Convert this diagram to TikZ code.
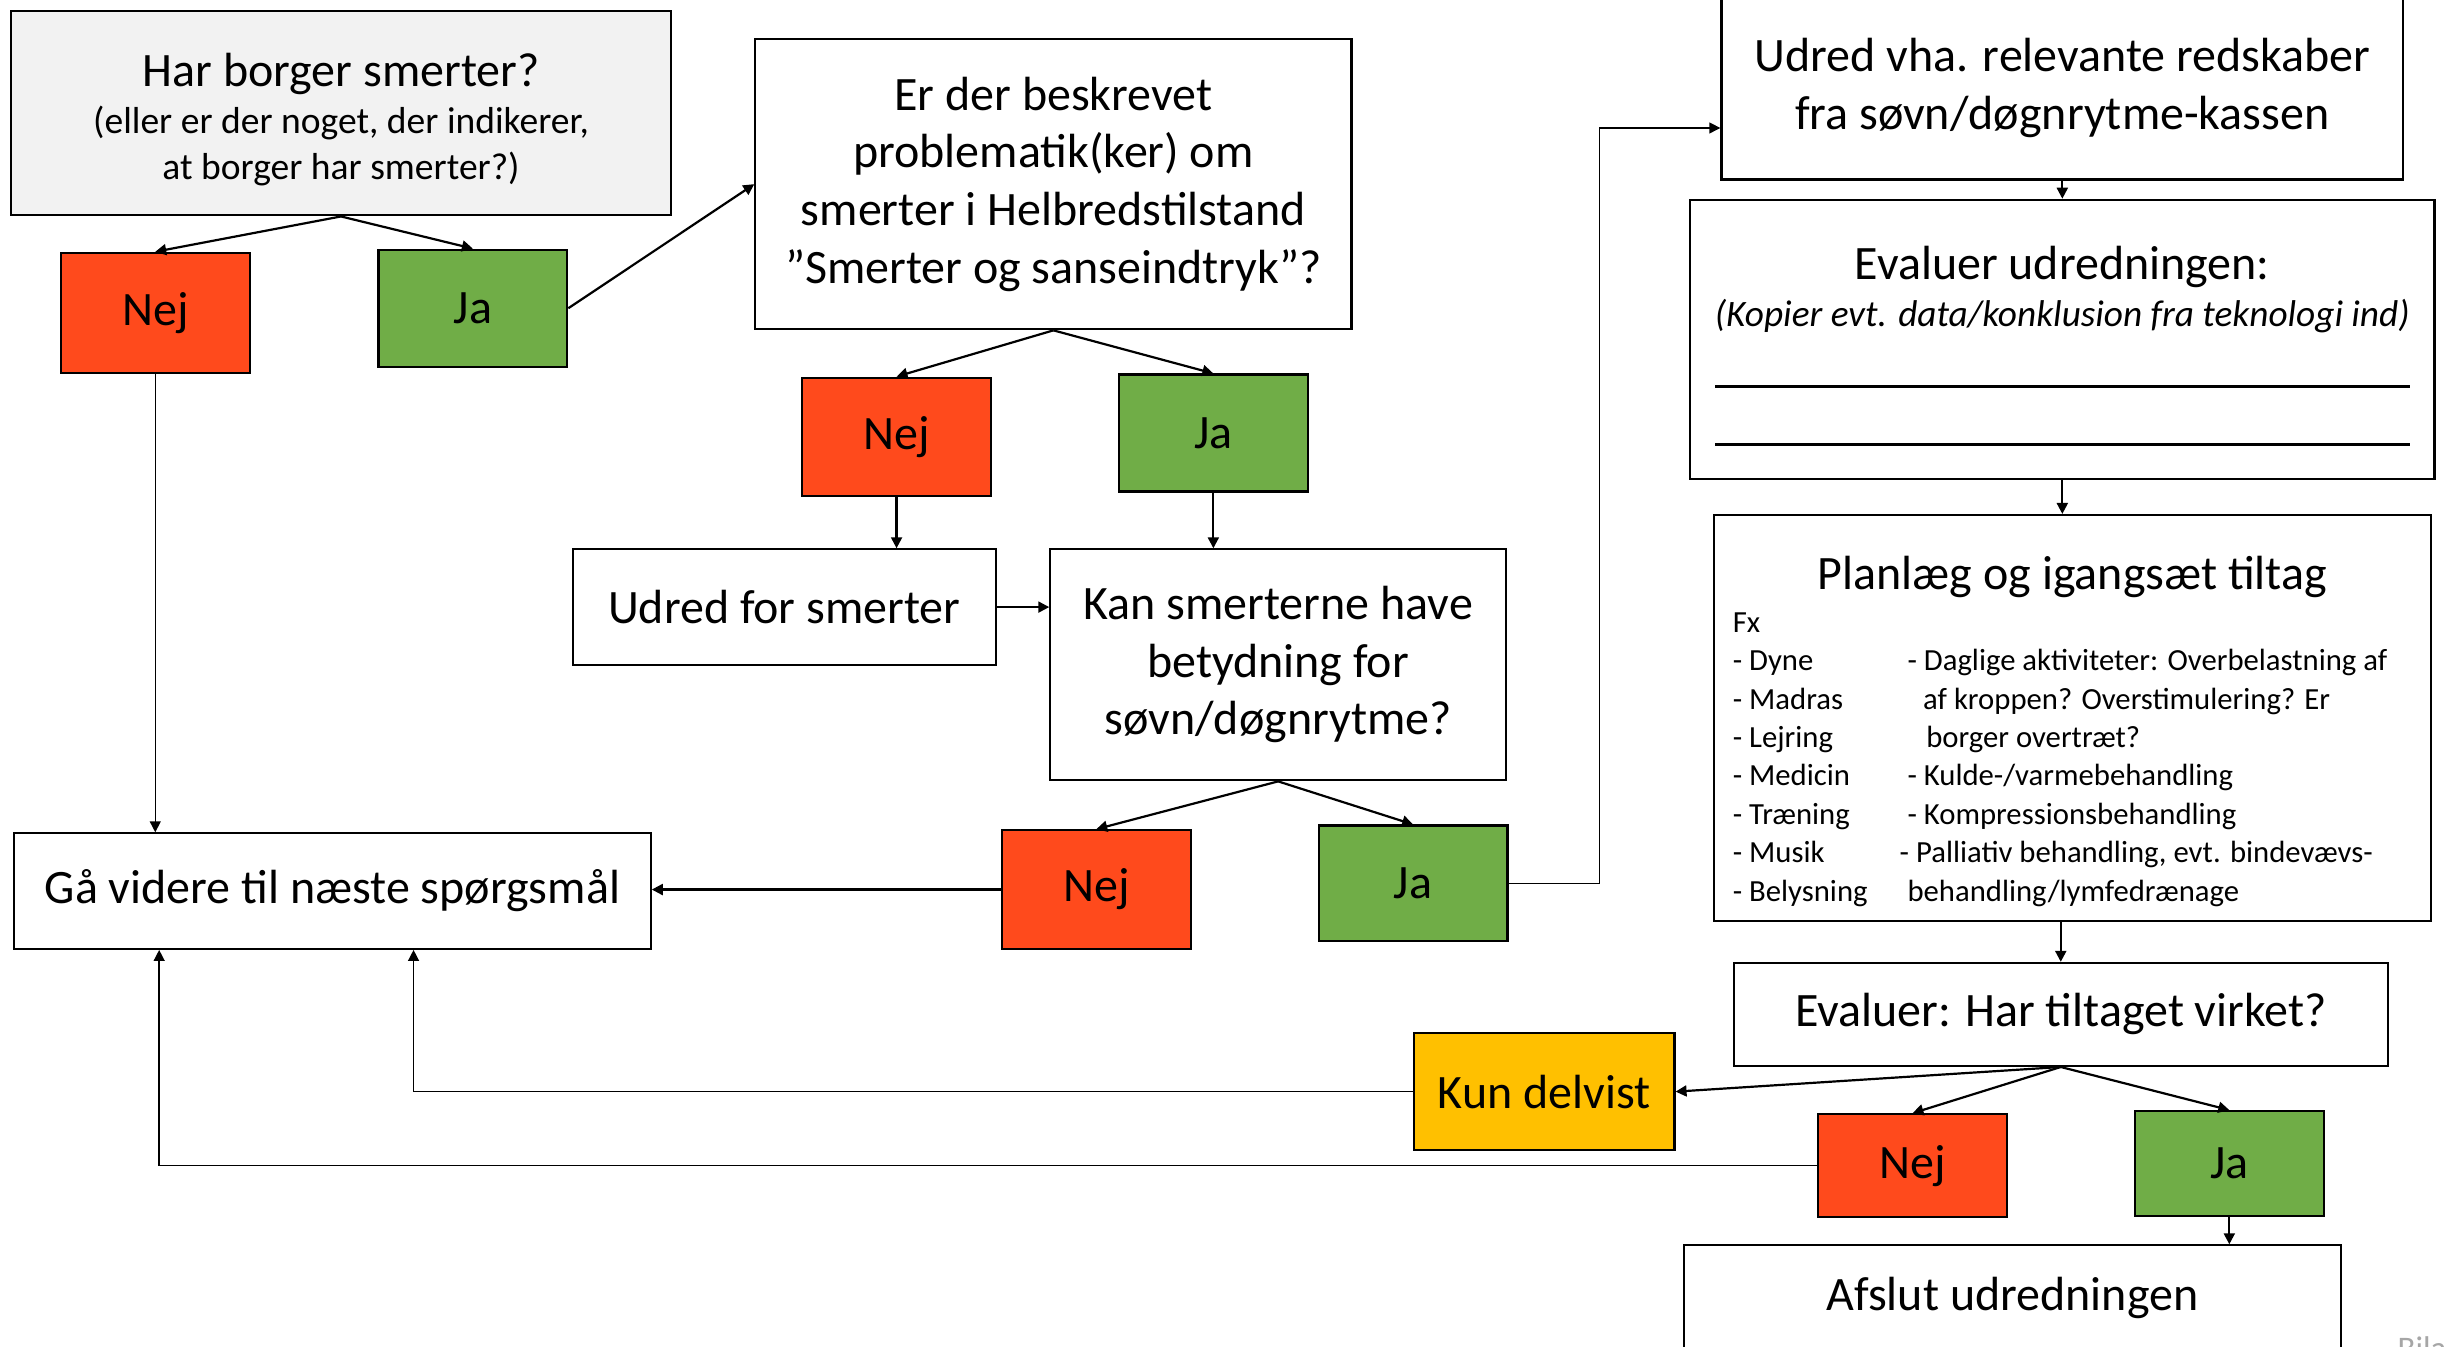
\documentclass[tikz,border=0pt]{standalone}
\usepackage{fontspec}
\setmainfont{Carlito}
\usetikzlibrary{arrows.meta}
\definecolor{nejrod}{HTML}{FF4A1C}
\definecolor{jagron}{HTML}{70AD47}
\definecolor{delvisgul}{HTML}{FFC000}
\definecolor{lysgraa}{HTML}{F2F2F2}

\begin{document}
\begin{tikzpicture}[x=0.02cm,y=-0.02cm,
  kasse/.style={draw,line width=0.8pt,fill=white,align=center,inner sep=2pt,font=\fontsize{17.5}{21}\selectfont},
  svar/.style={kasse,minimum width=2.42cm,minimum height=1.5cm},
  nejkasse/.style={svar,fill=nejrod},
  jakasse/.style={svar,fill=jagron},
  pil/.style={-{Triangle[length=4pt,width=4pt]},line width=0.8pt},
  tyndpil/.style={pil,line width=0.5pt}]
\useasboundingbox (0,0) rectangle (1568,863);

% venstre del
\node[kasse,fill=lysgraa,minimum width=8.46cm,minimum height=2.62cm] (har) at (218.5,72.5)
  {\rule{0pt}{17pt}Har borger smerter?\\[-4pt]{\fontsize{13.7}{16}\selectfont (eller er der noget, der indikerer,}\\[-4pt]{\fontsize{13.7}{16}\selectfont at borger har smerter?)}};
\node[nejkasse,minimum height=1.54cm] (nej1) at (99.5,200.5) {Nej};
\node[jakasse] (ja1) at (303,197.5) {Ja};
\node[kasse,minimum width=7.64cm,minimum height=3.72cm] (er) at (675,118)
  {Er der beskrevet\\problematik(ker) om\\smerter i Helbredstilstand\\”Smerter og sanseindtryk”?};
\node[nejkasse,minimum height=1.52cm] (nej2) at (574.5,280) {Nej};
\node[jakasse] (ja2) at (777.5,277.5) {Ja};
\node[kasse,minimum width=5.42cm,minimum height=1.48cm] (udredsm) at (502.5,389) {Udred for smerter};
\node[kasse,minimum width=5.84cm,minimum height=2.96cm] (kan) at (819,426)
  {Kan smerterne have\\betydning for\\søvn/døgnrytme?};
\node[kasse,minimum width=8.16cm,minimum height=1.48cm] (gaa) at (213,571) {Gå videre til næste spørgsmål};
\node[nejkasse,minimum height=1.52cm] (nej3) at (702.5,570) {Nej};
\node[jakasse,minimum height=1.48cm] (ja3) at (905.5,566) {Ja};

% højre del
\node[kasse,minimum width=8.74cm,minimum height=2.34cm] (udredvha) at (1321.5,56.5)
  {Udred vha. relevante redskaber\\fra søvn/døgnrytme-kassen};
\node[kasse,minimum width=9.54cm,minimum height=3.58cm] (evaluer) at (1321.5,217.5)
  {\rule{0pt}{17pt}Evaluer udredningen:\\[-4pt]{\fontsize{13.6}{16}\selectfont\itshape (Kopier evt. data/konklusion fra teknologi ind)}\\[1.5pt]
   \rule{8.9cm}{1.1pt}\\\rule{8.9cm}{1.1pt}};
\node[kasse,minimum width=9.2cm,minimum height=5.2cm] (planlaeg) at (1328,460)
  {\rule{0pt}{24pt}Planlæg og igangsæt tiltag\\[2pt]
   {\fontsize{11.2}{14}\selectfont\begin{tabular}{@{}p{2.24cm}@{}l@{\hspace{0.32cm}}}
   Fx & \\
   - Dyne & - Daglige aktiviteter: Overbelastning af\\
   - Madras & \hspace{0.2cm}af kroppen? Overstimulering? Er\\
   - Lejring & \hspace{0.24cm}borger overtræt?\\
   - Medicin & - Kulde-/varmebehandling\\
   - Træning & - Kompressionsbehandling\\
   - Musik & \hspace{-0.1cm}- Palliativ behandling, evt. bindevævs-\\
   - Belysning & behandling/lymfedrænage
   \end{tabular}}};
\node[kasse,minimum width=8.38cm,minimum height=1.32cm] (evalt) at (1320.5,650) {Evaluer: Har tiltaget virket?};
\node[kasse,fill=delvisgul,minimum width=3.34cm,minimum height=1.5cm] (delvis) at (989.5,699.5) {Kun delvist};
\node[nejkasse,minimum height=1.32cm] (nej4) at (1225.5,747) {Nej};
\node[jakasse,minimum height=1.34cm] (ja4) at (1428.5,745.5) {Ja};
\node[kasse,minimum width=8.42cm,minimum height=1.36cm] (afslut) at (1289.5,832) {Afslut udredningen};
\node[anchor=base west,inner sep=0pt,text=gray!70,font=\fontsize{12}{14}\selectfont] (bilag) at (1536,871) {Bilag};

% pile
\draw[pil] (har.south) -- (nej1.north);
\draw[pil] (har.south) -- (ja1.north);
\draw[pil] (ja1.east) -- (er.west);
\draw[pil] (er.south) -- (nej2.north);
\draw[pil] (er.south) -- (ja2.north);
\draw[pil] (nej2.south) -- (nej2.south |- udredsm.north);
\draw[pil] (ja2.south) -- (ja2.south |- kan.north);
\draw[pil] (udredsm.east) -- (udredsm.east -| kan.west);
\draw[pil] (kan.south) -- (nej3.north);
\draw[pil] (kan.south) -- (ja3.north);
\draw[pil] (nej3.west) -- (nej3.west -| gaa.east);
\draw[tyndpil] (nej1.south) -- (nej1.south |- gaa.north);
\coordinate (knaek) at (1025,82);
\draw[tyndpil] (ja3.east) -| (knaek) -- (knaek -| udredvha.west);
\draw[pil] (udredvha.south) -- (evaluer.north);
\draw[pil] (evaluer.south) -- (evaluer.south |- planlaeg.north);
\draw[pil] (planlaeg.south -| evalt.north) -- (evalt.north);
\draw[pil] (evalt.south) -- (delvis.east);
\draw[pil] (evalt.south) -- (nej4.north);
\draw[pil] (evalt.south) -- (ja4.north);
\draw[pil] (ja4.south) -- (ja4.south |- afslut.north);
\coordinate (delvisind) at (265,0 |- gaa.south);
\draw[tyndpil] (delvis.west) -| (delvisind);
\coordinate (nejind) at (102,0 |- gaa.south);
\draw[tyndpil] (nej4.west) -| (nejind);
\end{tikzpicture}
\end{document}
